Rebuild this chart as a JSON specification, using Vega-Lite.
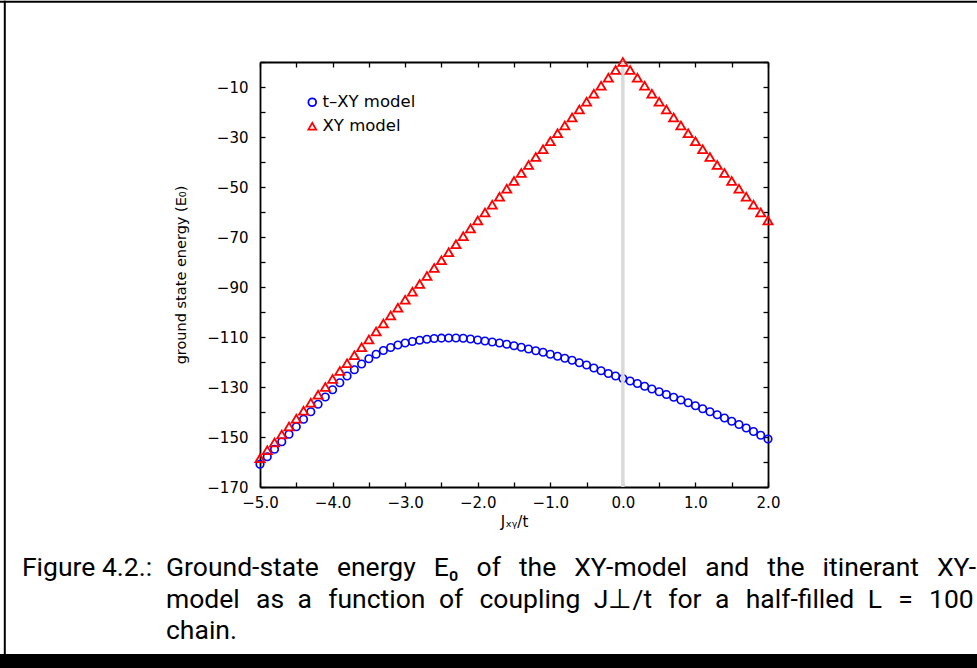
{
  "$schema": "https://vega.github.io/schema/vega-lite/v6.json",
  "width": 508,
  "height": 425,
  "autosize": {"type": "none"},
  "padding": {"left": 260, "top": 62, "right": 209, "bottom": 181},
  "background": "white",
  "config": {
    "view": {"stroke": null},
    "axis": {
      "domainColor": "black", "domainWidth": 1.8, "tickColor": "black", "tickWidth": 1.3, "tickSize": -5,
      "labelFont": "DejaVu Sans", "labelFontSize": 15, "labelColor": "black",
      "titleFont": "DejaVu Sans", "titleFontSize": 15, "titleColor": "black", "titleFontWeight": "normal",
      "grid": false, "labelFlush": false, "labelOverlap": false
    },
    "legend": {
      "labelFont": "DejaVu Sans", "labelFontSize": 16.5, "labelColor": "black",
      "symbolSize": 60, "symbolStrokeWidth": 1.8, "labelOffset": 2, "rowPadding": 7, "padding": 0
    }
  },
  "datasets": {
    "txy": [
      {"J": -5.0, "E": -160.9, "model": "t–XY model"},
      {"J": -4.9, "E": -157.9, "model": "t–XY model"},
      {"J": -4.8, "E": -154.9, "model": "t–XY model"},
      {"J": -4.7, "E": -151.9, "model": "t–XY model"},
      {"J": -4.6, "E": -148.9, "model": "t–XY model"},
      {"J": -4.5, "E": -145.9, "model": "t–XY model"},
      {"J": -4.4, "E": -142.9, "model": "t–XY model"},
      {"J": -4.3, "E": -139.9, "model": "t–XY model"},
      {"J": -4.2, "E": -136.9, "model": "t–XY model"},
      {"J": -4.1, "E": -134.0, "model": "t–XY model"},
      {"J": -4.0, "E": -131.1, "model": "t–XY model"},
      {"J": -3.9, "E": -128.3, "model": "t–XY model"},
      {"J": -3.8, "E": -125.6, "model": "t–XY model"},
      {"J": -3.7, "E": -123.1, "model": "t–XY model"},
      {"J": -3.6, "E": -120.8, "model": "t–XY model"},
      {"J": -3.5, "E": -118.7, "model": "t–XY model"},
      {"J": -3.4, "E": -116.9, "model": "t–XY model"},
      {"J": -3.3, "E": -115.4, "model": "t–XY model"},
      {"J": -3.2, "E": -114.2, "model": "t–XY model"},
      {"J": -3.1, "E": -113.2, "model": "t–XY model"},
      {"J": -3.0, "E": -112.4, "model": "t–XY model"},
      {"J": -2.9, "E": -111.8, "model": "t–XY model"},
      {"J": -2.8, "E": -111.3, "model": "t–XY model"},
      {"J": -2.7, "E": -110.9, "model": "t–XY model"},
      {"J": -2.6, "E": -110.6, "model": "t–XY model"},
      {"J": -2.5, "E": -110.45, "model": "t–XY model"},
      {"J": -2.4, "E": -110.4, "model": "t–XY model"},
      {"J": -2.3, "E": -110.4, "model": "t–XY model"},
      {"J": -2.2, "E": -110.5, "model": "t–XY model"},
      {"J": -2.1, "E": -110.8, "model": "t–XY model"},
      {"J": -2.0, "E": -111.2, "model": "t–XY model"},
      {"J": -1.9, "E": -111.6, "model": "t–XY model"},
      {"J": -1.8, "E": -112.0, "model": "t–XY model"},
      {"J": -1.7, "E": -112.4, "model": "t–XY model"},
      {"J": -1.6, "E": -112.9, "model": "t–XY model"},
      {"J": -1.5, "E": -113.5, "model": "t–XY model"},
      {"J": -1.4, "E": -114.1, "model": "t–XY model"},
      {"J": -1.3, "E": -114.8, "model": "t–XY model"},
      {"J": -1.2, "E": -115.5, "model": "t–XY model"},
      {"J": -1.1, "E": -116.1, "model": "t–XY model"},
      {"J": -1.0, "E": -116.9, "model": "t–XY model"},
      {"J": -0.9, "E": -117.7, "model": "t–XY model"},
      {"J": -0.8, "E": -118.5, "model": "t–XY model"},
      {"J": -0.7, "E": -119.3, "model": "t–XY model"},
      {"J": -0.6, "E": -120.3, "model": "t–XY model"},
      {"J": -0.5, "E": -121.2, "model": "t–XY model"},
      {"J": -0.4, "E": -122.4, "model": "t–XY model"},
      {"J": -0.3, "E": -123.5, "model": "t–XY model"},
      {"J": -0.2, "E": -124.6, "model": "t–XY model"},
      {"J": -0.1, "E": -125.6, "model": "t–XY model"},
      {"J": 0.0, "E": -126.6, "model": "t–XY model"},
      {"J": 0.1, "E": -127.6, "model": "t–XY model"},
      {"J": 0.2, "E": -128.6, "model": "t–XY model"},
      {"J": 0.3, "E": -129.7, "model": "t–XY model"},
      {"J": 0.4, "E": -130.8, "model": "t–XY model"},
      {"J": 0.5, "E": -131.9, "model": "t–XY model"},
      {"J": 0.6, "E": -133.0, "model": "t–XY model"},
      {"J": 0.7, "E": -134.1, "model": "t–XY model"},
      {"J": 0.8, "E": -135.2, "model": "t–XY model"},
      {"J": 0.9, "E": -136.3, "model": "t–XY model"},
      {"J": 1.0, "E": -137.5, "model": "t–XY model"},
      {"J": 1.1, "E": -138.7, "model": "t–XY model"},
      {"J": 1.2, "E": -139.9, "model": "t–XY model"},
      {"J": 1.3, "E": -141.1, "model": "t–XY model"},
      {"J": 1.4, "E": -142.4, "model": "t–XY model"},
      {"J": 1.5, "E": -143.7, "model": "t–XY model"},
      {"J": 1.6, "E": -145.0, "model": "t–XY model"},
      {"J": 1.7, "E": -146.4, "model": "t–XY model"},
      {"J": 1.8, "E": -147.8, "model": "t–XY model"},
      {"J": 1.9, "E": -149.3, "model": "t–XY model"},
      {"J": 2.0, "E": -150.8, "model": "t–XY model"}
    ],
    "xy": [
      {"J": -5.0, "E": -158.5, "model": "XY model"},
      {"J": -4.9, "E": -155.3, "model": "XY model"},
      {"J": -4.8, "E": -152.2, "model": "XY model"},
      {"J": -4.7, "E": -149.0, "model": "XY model"},
      {"J": -4.6, "E": -145.8, "model": "XY model"},
      {"J": -4.5, "E": -142.7, "model": "XY model"},
      {"J": -4.4, "E": -139.5, "model": "XY model"},
      {"J": -4.3, "E": -136.3, "model": "XY model"},
      {"J": -4.2, "E": -133.1, "model": "XY model"},
      {"J": -4.1, "E": -130.0, "model": "XY model"},
      {"J": -4.0, "E": -126.8, "model": "XY model"},
      {"J": -3.9, "E": -123.6, "model": "XY model"},
      {"J": -3.8, "E": -120.5, "model": "XY model"},
      {"J": -3.7, "E": -117.3, "model": "XY model"},
      {"J": -3.6, "E": -114.1, "model": "XY model"},
      {"J": -3.5, "E": -111.0, "model": "XY model"},
      {"J": -3.4, "E": -107.8, "model": "XY model"},
      {"J": -3.3, "E": -104.6, "model": "XY model"},
      {"J": -3.2, "E": -101.4, "model": "XY model"},
      {"J": -3.1, "E": -98.3, "model": "XY model"},
      {"J": -3.0, "E": -95.1, "model": "XY model"},
      {"J": -2.9, "E": -91.9, "model": "XY model"},
      {"J": -2.8, "E": -88.8, "model": "XY model"},
      {"J": -2.7, "E": -85.6, "model": "XY model"},
      {"J": -2.6, "E": -82.4, "model": "XY model"},
      {"J": -2.5, "E": -79.3, "model": "XY model"},
      {"J": -2.4, "E": -76.1, "model": "XY model"},
      {"J": -2.3, "E": -72.9, "model": "XY model"},
      {"J": -2.2, "E": -69.7, "model": "XY model"},
      {"J": -2.1, "E": -66.6, "model": "XY model"},
      {"J": -2.0, "E": -63.4, "model": "XY model"},
      {"J": -1.9, "E": -60.2, "model": "XY model"},
      {"J": -1.8, "E": -57.1, "model": "XY model"},
      {"J": -1.7, "E": -53.9, "model": "XY model"},
      {"J": -1.6, "E": -50.7, "model": "XY model"},
      {"J": -1.5, "E": -47.6, "model": "XY model"},
      {"J": -1.4, "E": -44.4, "model": "XY model"},
      {"J": -1.3, "E": -41.2, "model": "XY model"},
      {"J": -1.2, "E": -38.0, "model": "XY model"},
      {"J": -1.1, "E": -34.9, "model": "XY model"},
      {"J": -1.0, "E": -31.7, "model": "XY model"},
      {"J": -0.9, "E": -28.5, "model": "XY model"},
      {"J": -0.8, "E": -25.4, "model": "XY model"},
      {"J": -0.7, "E": -22.2, "model": "XY model"},
      {"J": -0.6, "E": -19.0, "model": "XY model"},
      {"J": -0.5, "E": -15.9, "model": "XY model"},
      {"J": -0.4, "E": -12.7, "model": "XY model"},
      {"J": -0.3, "E": -9.5, "model": "XY model"},
      {"J": -0.2, "E": -6.3, "model": "XY model"},
      {"J": -0.1, "E": -3.2, "model": "XY model"},
      {"J": 0.0, "E": 0.0, "model": "XY model"},
      {"J": 0.1, "E": -3.2, "model": "XY model"},
      {"J": 0.2, "E": -6.3, "model": "XY model"},
      {"J": 0.3, "E": -9.5, "model": "XY model"},
      {"J": 0.4, "E": -12.7, "model": "XY model"},
      {"J": 0.5, "E": -15.9, "model": "XY model"},
      {"J": 0.6, "E": -19.0, "model": "XY model"},
      {"J": 0.7, "E": -22.2, "model": "XY model"},
      {"J": 0.8, "E": -25.4, "model": "XY model"},
      {"J": 0.9, "E": -28.5, "model": "XY model"},
      {"J": 1.0, "E": -31.7, "model": "XY model"},
      {"J": 1.1, "E": -34.9, "model": "XY model"},
      {"J": 1.2, "E": -38.0, "model": "XY model"},
      {"J": 1.3, "E": -41.2, "model": "XY model"},
      {"J": 1.4, "E": -44.4, "model": "XY model"},
      {"J": 1.5, "E": -47.6, "model": "XY model"},
      {"J": 1.6, "E": -50.7, "model": "XY model"},
      {"J": 1.7, "E": -53.9, "model": "XY model"},
      {"J": 1.8, "E": -57.1, "model": "XY model"},
      {"J": 1.9, "E": -60.2, "model": "XY model"},
      {"J": 2.0, "E": -63.4, "model": "XY model"}
    ]
  },
  "layer": [
    {
      "data": {"name": "txy"},
      "mark": {"type": "point", "filled": false, "size": 56, "strokeWidth": 1.7, "opacity": 1},
      "encoding": {
        "x": {
          "field": "J", "type": "quantitative",
          "scale": {"domain": [-5, 2], "nice": false, "zero": false},
          "axis": {
            "orient": "bottom", "title": "Jₓᵧ/t", "format": ".1f",
            "values": [-5, -4.5, -4, -3.5, -3, -2.5, -2, -1.5, -1, -0.5, 0, 0.5, 1, 1.5, 2],
            "labelExpr": "datum.value % 1 === 0 ? datum.label : ''",
            "labelPadding": 13, "titlePadding": 4
          }
        },
        "y": {
          "field": "E", "type": "quantitative",
          "scale": {"domain": [-170, 0], "nice": false, "zero": false},
          "axis": {
            "orient": "left", "title": "ground state energy (E₀)", "titleFontSize": 14.5,
            "values": [0, -10, -20, -30, -40, -50, -60, -70, -80, -90, -100, -110, -120, -130, -140, -150, -160, -170],
            "labelExpr": "datum.value % 20 !== 0 ? datum.label : ''",
            "labelPadding": 17, "titlePadding": 18
          }
        },
        "color": {
          "field": "model", "type": "nominal",
          "scale": {"domain": ["t–XY model", "XY model"], "range": ["#0000ff", "#ff0000"]},
          "legend": {"orient": "none", "legendX": 44, "legendY": 32, "title": null}
        },
        "shape": {
          "field": "model", "type": "nominal",
          "scale": {"domain": ["t–XY model", "XY model"], "range": ["circle", "triangle-up"]},
          "legend": {"orient": "none", "legendX": 44, "legendY": 32, "title": null}
        }
      }
    },
    {
      "data": {"values": [{}]},
      "mark": {"type": "rule", "color": "#d9d9d9", "strokeWidth": 3.5},
      "encoding": {
        "x": {"datum": 0, "type": "quantitative", "axis": null}
      }
    },
    {
      "data": {"name": "xy"},
      "mark": {"type": "point", "filled": false, "size": 80, "strokeWidth": 1.9, "opacity": 1},
      "encoding": {
        "x": {
          "field": "J", "type": "quantitative",
          "axis": {
            "orient": "top", "title": null, "labels": false,
            "values": [-5, -4.5, -4, -3.5, -3, -2.5, -2, -1.5, -1, -0.5, 0, 0.5, 1, 1.5, 2]
          }
        },
        "y": {
          "field": "E", "type": "quantitative",
          "axis": {
            "orient": "right", "title": null, "labels": false,
            "values": [0, -10, -20, -30, -40, -50, -60, -70, -80, -90, -100, -110, -120, -130, -140, -150, -160, -170]
          }
        },
        "color": {"field": "model", "type": "nominal"},
        "shape": {"field": "model", "type": "nominal"}
      }
    },
    {
      "data": {"values": [{}]},
      "mark": {"type": "rule", "color": "black", "strokeWidth": 2},
      "encoding": {
        "x": {"datum": -8.6, "type": "quantitative", "axis": null},
        "x2": {"datum": 5.5},
        "y": {"datum": 24.08, "type": "quantitative", "axis": null}
      }
    },
    {
      "data": {"values": [{}]},
      "mark": {"type": "rule", "color": "black", "strokeWidth": 2},
      "encoding": {
        "x": {"datum": -8.5165, "type": "quantitative", "axis": null},
        "y": {"datum": 24.5, "type": "quantitative", "axis": null},
        "y2": {"datum": -240}
      }
    },
    {
      "data": {"values": [{}]},
      "mark": {"type": "rect", "color": "black"},
      "encoding": {
        "x": {"datum": -9, "type": "quantitative", "axis": null},
        "x2": {"datum": 5.5},
        "y": {"datum": -236.8, "type": "quantitative", "axis": null},
        "y2": {"datum": -244}
      }
    },
    {
      "data": {"values": [{}]},
      "mark": {"type": "text", "align": "left", "baseline": "alphabetic", "font": "Roboto", "fontSize": 26.5, "color": "black", "text": "Figure 4.2.:"},
      "encoding": {
        "x": {"datum": -8.28, "type": "quantitative", "axis": null},
        "y": {"datum": -205.6, "type": "quantitative", "axis": null}
      }
    },
    {
      "data": {"values": [{}]},
      "mark": {"type": "text", "align": "left", "baseline": "alphabetic", "font": "Roboto", "fontSize": 26.5, "lineHeight": 31.5, "color": "black",
        "text": ["Ground-state\u2002\u2006energy\u2002\u2006E₀\u2002\u2006of\u2002\u2006the\u2002\u2006XY-model\u2002\u2006and\u2002\u2006the\u2002\u2006itinerant\u2002\u2006XY-", "model\u2002\u200aas\u2002a\u2002\u200afunction\u2002of\u2002\u200acoupling\u2002J⊥/t\u2002\u200afor\u2002a\u2002\u200ahalf-filled\u2002L\u2002\u200a=\u2002\u200a100", "chain."]},
      "encoding": {
        "x": {"datum": -6.2953, "type": "quantitative", "axis": null},
        "y": {"datum": -205.6, "type": "quantitative", "axis": null}
      }
    }
  ]
}
